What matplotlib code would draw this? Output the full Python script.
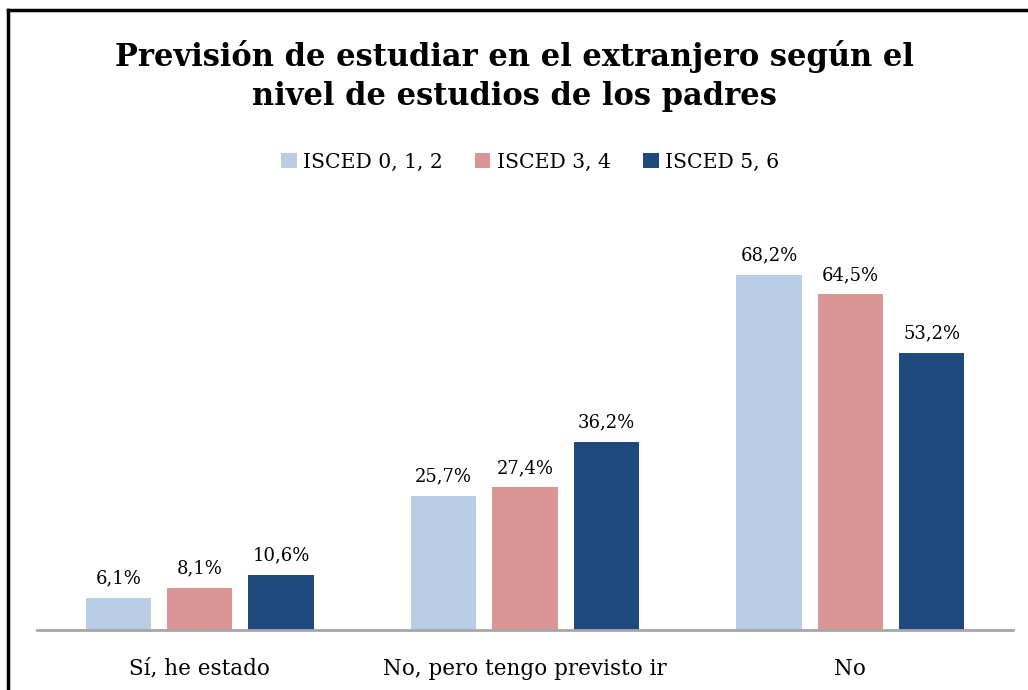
import numpy as np
import matplotlib.pyplot as plt
from matplotlib.lines import Line2D

categories = ["Sí, he estado", "No, pero tengo previsto ir", "No"]
series_names = ["ISCED 0, 1, 2", "ISCED 3, 4", "ISCED 5, 6"]
isced_012 = [6.1, 25.7, 68.2]
isced_34 = [8.1, 27.4, 64.5]
isced_56 = [10.6, 36.2, 53.2]
colors = ["#B9CDE5", "#D99694", "#1F497D"]

serif = ["DejaVu Serif"]

fig = plt.figure(figsize=(10.28, 6.9), dpi=100)
ax = fig.add_axes([37 / 1028, 60 / 690, 976 / 1028, (630 - 213.6) / 690])

x = np.arange(len(categories))
width = 0.2
step = 0.25
for i, (vals, name) in enumerate(zip([isced_012, isced_34, isced_56], series_names)):
    pos = x + (i - 1) * step
    ax.bar(pos, vals, width, color=colors[i], label=name)
    for p, v in zip(pos, vals):
        ax.text(p, v + 2.0, f"{v:.1f}%".replace(".", ","), ha="center", va="bottom",
                fontsize=13, family=serif)

ax.set_xlim(-0.5, 2.5)
ax.set_ylim(0, 80)
ax.set_yticks([])
ax.set_xticks(x)
ax.set_xticklabels(categories, fontsize=15.5, family=serif)
ax.tick_params(axis="x", length=0, pad=20)
for s in ["top", "right", "left"]:
    ax.spines[s].set_visible(False)
ax.spines["bottom"].set_color("#A6A6A6")
ax.spines["bottom"].set_linewidth(2)

fig.text(0.5, 1 - 76 / 690, "Previsión de estudiar en el extranjero según el\nnivel de estudios de los padres",
         ha="center", va="center", fontsize=22, fontweight="bold", family=serif,
         linespacing=1.3)

leg = fig.legend(loc="center", bbox_to_anchor=(530 / 1028, 1 - 162 / 690), ncol=3, frameon=False,
                 prop={"family": serif, "size": 14.7}, handlelength=0.75, handleheight=0.75,
                 handletextpad=0.3, columnspacing=1.6)

# outer frame (top and left edges)
fig.add_artist(Line2D([8 / 1028, 1], [1 - 10 / 690, 1 - 10 / 690], color="black", lw=2.5,
                      transform=fig.transFigure))
fig.add_artist(Line2D([8 / 1028, 8 / 1028], [0, 1 - 10 / 690], color="black", lw=2.5,
                      transform=fig.transFigure))

fig.savefig("out.png", dpi=100)
